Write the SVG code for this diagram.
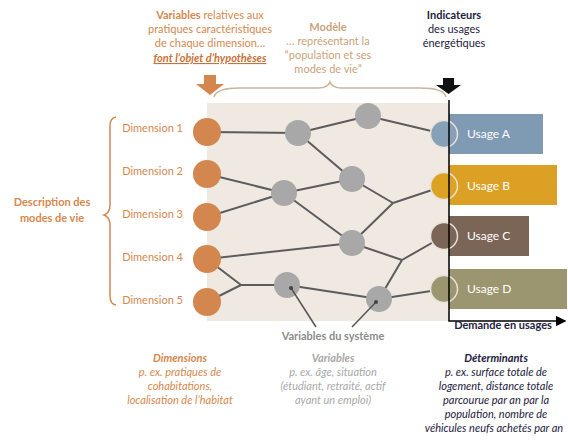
<svg xmlns="http://www.w3.org/2000/svg" width="568" height="442" viewBox="0 0 568 442">
<defs>
<style>
text{font-family:Lato,"Liberation Sans",sans-serif;font-size:11px;text-anchor:middle}
.or{fill:#d4894f}
.tan{fill:#caa37c}
.dk{fill:#1e2240}
.gr{fill:#8c8c8c}
.lg{fill:#a9a9a9}
.b{font-weight:bold}
.i{font-style:italic}
.dim{text-anchor:end;fill:#d4894f}
.ut{fill:#fff;text-anchor:start;font-size:12px}
.on{fill:#d4864f}
.gn{fill:#a8a8a8}
.e{stroke:#5c5c5c;stroke-width:2;fill:none}
.uc{stroke:#e8e2da;stroke-width:1.5}
</style>
<marker id="ax" viewBox="0 0 8 8" refX="7" refY="4" markerWidth="7" markerHeight="7" orient="auto"><path d="M0,0 L8,4 L0,8 z" fill="#000"/></marker>
</defs>
<rect x="207" y="103" width="242" height="218" fill="#efe9e1"/>

<g id="top-left-text">
<text x="210" y="19" class="or"><tspan class="b">Variables</tspan> relatives aux</text>
<text x="210" y="33" class="or">pratiques caractéristiques</text>
<text x="210" y="47" class="or">de chaque dimension…</text>
<text x="210" y="62" class="b i" fill="#c8733a" text-decoration="underline">font l’objet d’hypothèses</text>
<path d="M204,75 h12 v9 h8 l-14,11 l-14,-11 h8 z" fill="#d4864f"/>
</g>
<g id="top-mid-text">
<text x="328" y="31" class="tan b">Modèle</text>
<text x="328" y="45" class="tan">… représentant la</text>
<text x="328" y="59" class="tan">“population et ses</text>
<text x="328" y="73" class="tan">modes de vie”</text>
<path d="M214,97 Q216,88 240,88 H318 Q328,88 330,82 Q332,88 342,88 H420 Q444,88 446,97" fill="none" stroke="#c9b39b" stroke-width="1.5"/>
</g>
<g id="top-right-text">
<text x="454" y="19" class="dk b">Indicateurs</text>
<text x="454" y="33" class="dk">des usages</text>
<text x="454" y="47" class="dk">énergétiques</text>
<path d="M443,78 h11 v7 h7 l-12.5,9 l-12.5,-9 h7 z" fill="#111"/>
</g>

<g id="left-label">
<text x="52" y="206" class="or b" font-size="12">Description des</text>
<text x="52" y="222" class="or b" font-size="12">modes de vie</text>
<path d="M116,117 Q110,118 110,126 V205 Q110,213 104,215 Q110,217 110,225 V296 Q110,304 116,305" fill="none" stroke="#d4894f" stroke-width="1.5"/>
<text x="183" y="132" class="dim">Dimension 1</text>
<text x="183" y="175" class="dim">Dimension 2</text>
<text x="183" y="218" class="dim">Dimension 3</text>
<text x="183" y="261" class="dim">Dimension 4</text>
<text x="183" y="304" class="dim">Dimension 5</text>
</g>

<g id="connectors">
<line class="e" x1="207" y1="132" x2="298" y2="133"/>
<line class="e" x1="298" y1="133" x2="368" y2="116"/>
<line class="e" x1="368" y1="116" x2="444" y2="134"/>
<line class="e" x1="298" y1="133" x2="352" y2="179"/>
<line class="e" x1="207" y1="174" x2="284" y2="193"/>
<line class="e" x1="207" y1="217" x2="284" y2="193"/>
<line class="e" x1="284" y1="193" x2="352" y2="179"/>
<line class="e" x1="284" y1="193" x2="352" y2="243"/>
<line class="e" x1="352" y1="179" x2="393" y2="203"/>
<line class="e" x1="393" y1="203" x2="444" y2="186"/>
<line class="e" x1="393" y1="203" x2="352" y2="243"/>
<line class="e" x1="207" y1="259" x2="352" y2="243"/>
<line class="e" x1="352" y1="243" x2="402" y2="260"/>
<line class="e" x1="402" y1="260" x2="444" y2="236"/>
<line class="e" x1="402" y1="260" x2="379" y2="299"/>
<line class="e" x1="207" y1="259" x2="241" y2="285"/>
<line class="e" x1="207" y1="302" x2="241" y2="285"/>
<line class="e" x1="241" y1="285" x2="287" y2="285"/>
<line class="e" x1="287" y1="285" x2="379" y2="299"/>
<line class="e" x1="379" y1="299" x2="444" y2="289"/>
</g>

<g id="dimension-nodes">
<circle id="d1" class="on" cx="207" cy="132" r="14"/>
<circle id="d2" class="on" cx="207" cy="174" r="14"/>
<circle id="d3" class="on" cx="207" cy="217" r="14"/>
<circle id="d4" class="on" cx="207" cy="259" r="14"/>
<circle id="d5" class="on" cx="207" cy="302" r="14"/>
</g>
<g id="variable-nodes">
<circle id="v1" class="gn" cx="298" cy="133" r="13"/>
<circle id="v2" class="gn" cx="368" cy="116" r="13"/>
<circle id="v3" class="gn" cx="284" cy="193" r="13"/>
<circle id="v4" class="gn" cx="352" cy="179" r="13"/>
<circle id="v5" class="gn" cx="352" cy="243" r="13"/>
<circle id="v6" class="gn" cx="287" cy="285" r="13"/>
<circle id="v7" class="gn" cx="379" cy="299" r="13"/>
</g>

<g id="usage-bars">
<rect x="449" y="114" width="94" height="40" fill="#7f9ab3"/>
<rect x="449" y="165" width="108" height="40" fill="#dba024"/>
<rect x="449" y="216" width="80" height="40" fill="#7a6557"/>
<rect x="449" y="269" width="118" height="40" fill="#9b9570"/>
<circle class="uc" cx="444" cy="134" r="13.5" fill="#86a0b8"/>
<circle class="uc" cx="444" cy="186" r="13.5" fill="#dca322"/>
<circle class="uc" cx="444" cy="236" r="13.5" fill="#7a6557"/>
<circle class="uc" cx="444" cy="289" r="13.5" fill="#9b9570"/>
<text x="467" y="138" class="ut">Usage A</text>
<text x="467" y="190" class="ut">Usage B</text>
<text x="467" y="240" class="ut">Usage C</text>
<text x="467" y="293" class="ut">Usage D</text>
<path d="M449,100 V321 H565" fill="none" stroke="#000" stroke-width="1.5" marker-end="url(#ax)"/>
<text x="503" y="329" class="dk b" font-size="10.5">Demande en usages</text>
</g>

<g id="pointers">
<line x1="291" y1="288" x2="316" y2="327" stroke="#555" stroke-width="1.5"/>
<line x1="376" y1="302" x2="352" y2="327" stroke="#555" stroke-width="1.5"/>
<circle cx="291" cy="288" r="2" fill="#444"/>
<circle cx="376" cy="302" r="2" fill="#444"/>
<text x="333" y="340" class="gr b">Variables du système</text>
</g>

<g id="bottom-texts">
<text x="180" y="362" class="or b i">Dimensions</text>
<text x="180" y="376" class="or i">p. ex. pratiques de</text>
<text x="180" y="390" class="or i">cohabitations,</text>
<text x="180" y="404" class="or i">localisation de l’habitat</text>
<text x="333" y="362" class="lg b i">Variables</text>
<text x="333" y="376" class="lg i">p. ex. âge, situation</text>
<text x="333" y="390" class="lg i">(étudiant, retraité, actif</text>
<text x="333" y="404" class="lg i">ayant un emploi)</text>
<g font-size="10.5">
<text x="496" y="362" class="dk b i" font-size="11">Déterminants</text>
<text x="496" y="376" class="dk i" font-size="10.5">p. ex. surface totale de</text>
<text x="496" y="390" class="dk i" font-size="10.5">logement, distance totale</text>
<text x="496" y="404" class="dk i" font-size="10.5">parcourue par an par la</text>
<text x="496" y="418" class="dk i" font-size="10.5">population, nombre de</text>
<text x="494" y="432" class="dk i" font-size="10.5">véhicules neufs achetés par an</text>
</g>
</g>
</svg>
